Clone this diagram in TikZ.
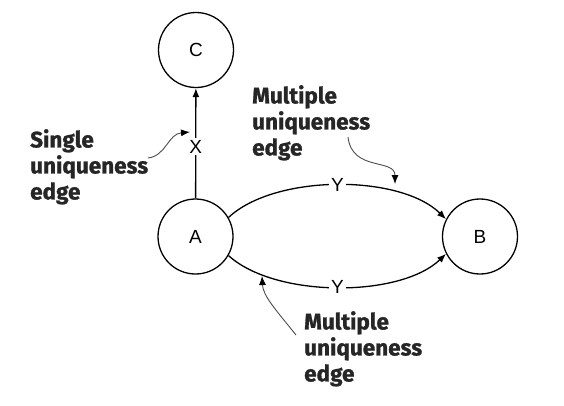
\documentclass[tikz,border=0pt]{standalone}
\usepackage{fontspec}
\setmainfont{Liberation Sans}
\newfontfamily\notefont[BoldFeatures={FakeBold=1.2}]{Fira Sans}
\usetikzlibrary{arrows.meta}
\tikzset{
  vert/.style={circle, draw, line width=1.3pt, minimum size=75pt, inner sep=0pt, font=\fontsize{19}{19}\selectfont},
  edgeline/.style={line width=1.3pt, -{Latex[length=9pt,width=7pt]}},
  edgelabel/.style={fill=white, inner sep=2pt, font=\fontsize{19}{19}\selectfont},
  notetext/.style={align=left, anchor=north west, inner sep=0pt, font=\notefont\bfseries\fontsize{22.5}{26}\selectfont, text=black!85},
  pointer/.style={draw=black!70, line width=0.9pt, -{Latex[length=9pt,width=7pt,color=black]}}
}
\begin{document}
\begin{tikzpicture}[x=1pt,y=-1pt]
\path[use as bounding box] (0,0) rectangle (564,405);
\node[vert] (C) at (196,50) {C};
\node[vert] (A) at (195.5,236.5) {A};
\node[vert] (B) at (480,236.5) {B};
\draw[edgeline] (A) -- node[edgelabel, pos=0.47] (X) {X} (C);
\draw[edgeline] (A.30) .. controls (275,174) and (400,174) .. node[edgelabel] (Y1) {Y} (B.153);
\draw[edgeline] (A.-30) .. controls (275,298) and (400,298) .. node[edgelabel] (Y2) {Y} (B.-153);
\node[notetext] (N1) at (30,129) {Single\\uniqueness\\edge};
\node[notetext] (N2) at (252,85) {Multiple\\uniqueness\\edge};
\node[notetext] (N3) at (304,311) {Multiple\\uniqueness\\edge};
\coordinate (s1) at (148,158);
\coordinate (t1) at (190,132);
\coordinate (s2) at (348,137);
\coordinate (t2) at (395,184);
\coordinate (s3) at (296,335);
\coordinate (t3) at (262,276);
\draw[pointer] (s1) .. controls (166,156) and (168,134) .. (t1);
\draw[pointer] (s2) .. controls (352,172) and (395,158) .. (t2);
\draw[pointer] (s3) .. controls (276,310) and (263,296) .. (t3);
\end{tikzpicture}
\end{document}
